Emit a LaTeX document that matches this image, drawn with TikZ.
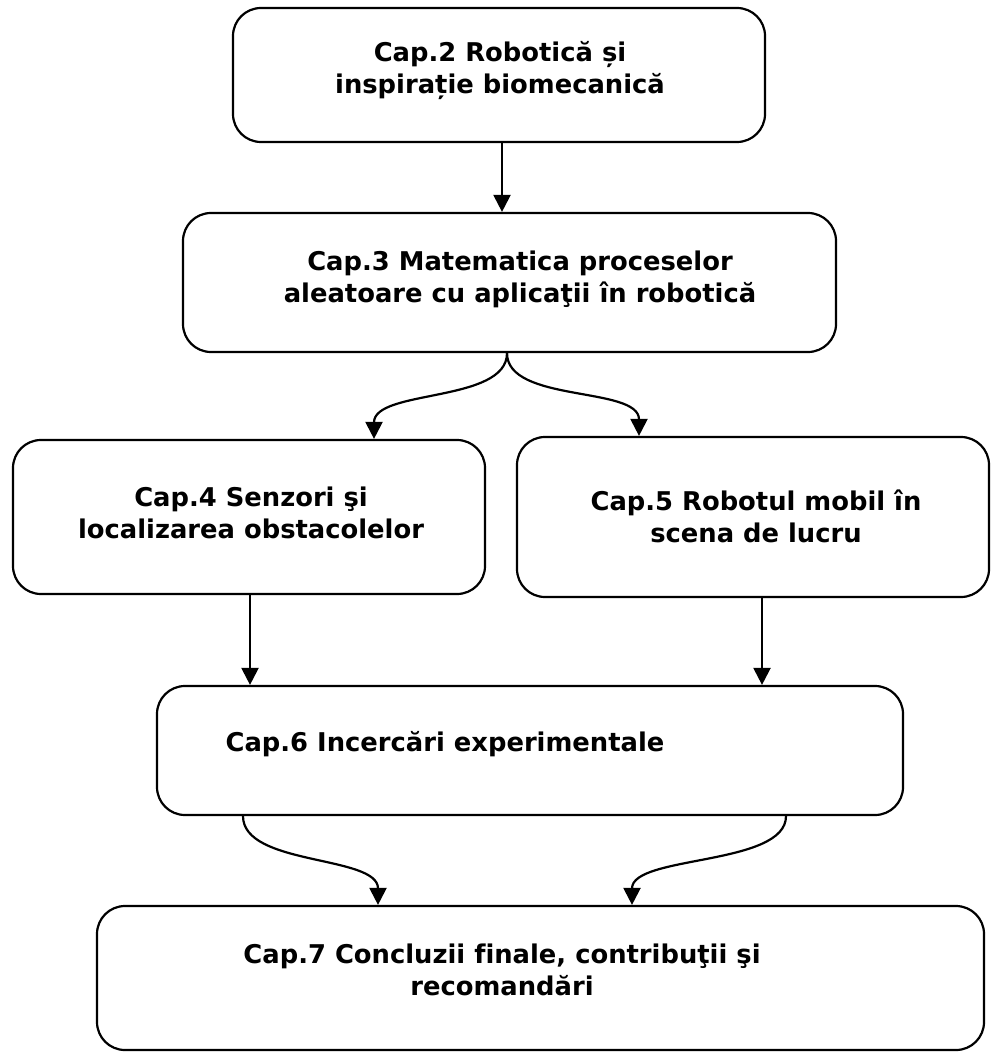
\documentclass[tikz,border=0pt]{standalone}
\usepackage{fontspec}
\setmainfont{DejaVu Sans}[Ligatures=NoCommon]
\usetikzlibrary{arrows.meta}
\tikzset{
  box/.style={draw=black, line width=2.2pt, rounded corners=28pt, inner sep=0pt},
  lbl/.style={font=\bfseries\fontsize{25.8pt}{32pt}\selectfont, align=center, inner sep=0pt},
  arr/.style={draw=black, line width=2.2pt, -{Triangle[length=17pt,width=17pt]}}
}
\begin{document}
\begin{tikzpicture}[x=1pt,y=-1pt]
\useasboundingbox (0,0) rectangle (992,1056);
% boxes
\node[box, minimum width=532pt, minimum height=134pt] (b1) at (499,75) {};
\node[box, minimum width=653pt, minimum height=139pt] (b2) at (509.5,282.5) {};
\node[box, minimum width=472pt, minimum height=154pt] (b4) at (249,517) {};
\node[box, minimum width=472pt, minimum height=160pt] (b5) at (753,517) {};
\node[box, minimum width=746pt, minimum height=129pt] (b6) at (530,750.5) {};
\node[box, minimum width=887pt, minimum height=144pt] (b7) at (540.5,978) {};
% labels
\node[lbl] (t1) at (500,71) {Cap.2 Robotică și\\inspirație biomecanică};
\node[lbl] (t2) at (520,279) {Cap.3 Matematica proceselor\\aleatoare cu aplicaţii în robotică};
\node[lbl] (t4) at (251,513) {Cap.4 Senzori şi\\localizarea obstacolelor};
\node[lbl] (t5) at (756,516) {Cap.5 Robotul mobil în\\scena de lucru};
\node[lbl] (t6) at (445,744) {Cap.6 Incercări experimentale};
\node[lbl] (t7) at (502,970) {Cap.7 Concluzii finale, contribuţii şi\\recomandări};
% x positions of connector ends
\coordinate (xa) at (502,0);
\coordinate (xb) at (507,0);
\coordinate (xc) at (374,0);
\coordinate (xd) at (639,0);
\coordinate (xe) at (250,0);
\coordinate (xf) at (762,0);
\coordinate (xg) at (243,0);
\coordinate (xh) at (786,0);
\coordinate (xi) at (378,0);
\coordinate (xj) at (632,0);
% connectors
\draw[arr] (b1.south -| xa) -- (b2.north -| xa);
\draw[arr] (b2.south -| xb) .. controls +(0,50) and +(0,-50) .. (b4.north -| xc);
\draw[arr] (b2.south -| xb) .. controls +(0,50) and +(0,-50) .. (b5.north -| xd);
\draw[arr] (b4.south -| xe) -- (b6.north -| xe);
\draw[arr] (b5.south -| xf) -- (b6.north -| xf);
\draw[arr] (b6.south -| xg) .. controls +(0,50) and +(0,-50) .. (b7.north -| xi);
\draw[arr] (b6.south -| xh) .. controls +(0,50) and +(0,-50) .. (b7.north -| xj);
\end{tikzpicture}
\end{document}
